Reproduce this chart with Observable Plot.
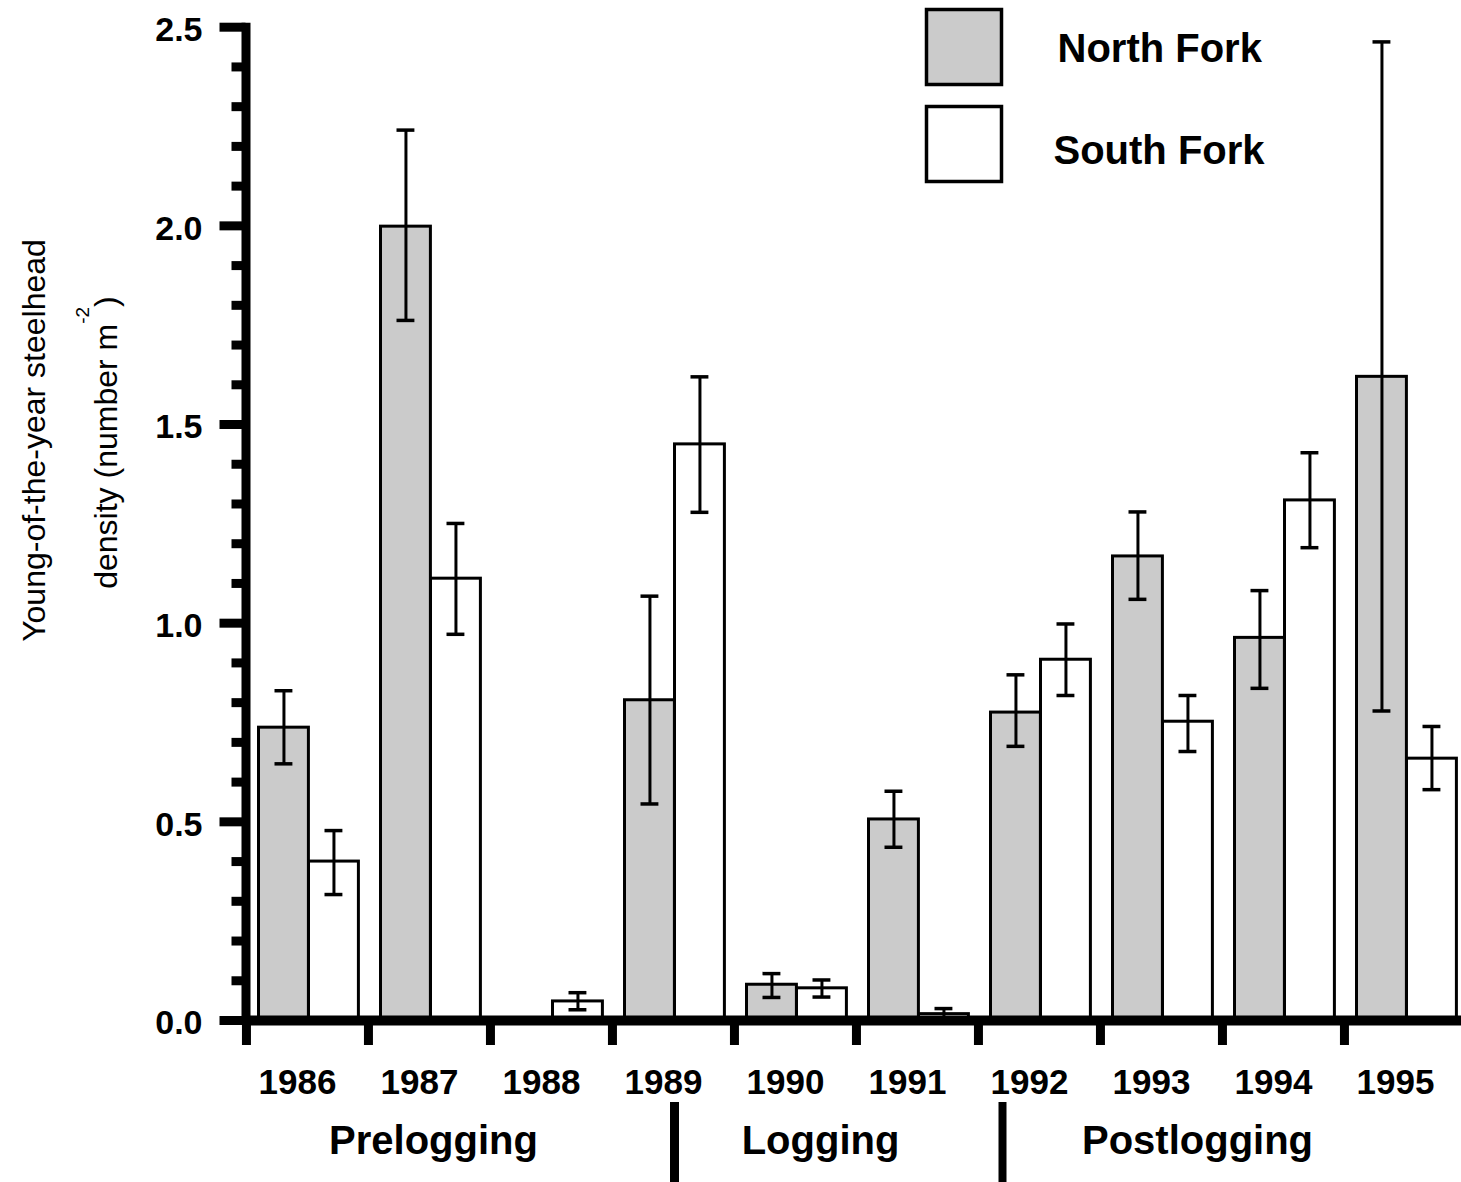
<!DOCTYPE html>
<html>
<head>
<meta charset="utf-8">
<script src="https://cdn.jsdelivr.net/npm/d3@7"></script>
<script src="https://cdn.jsdelivr.net/npm/@observablehq/plot@0.6"></script>
<style>
  html, body { margin: 0; padding: 0; background: #fff; }
</style>
</head>
<body>
<div id="chart"></div>
<script>
// ---- Data ----
const years = ["1986", "1987", "1988", "1989", "1990", "1991", "1992", "1993", "1994", "1995"];
const seriesNames = ["North Fork", "South Fork"];

const northFork = [0.737, 1.998, 0, 0.806, 0.090, 0.506, 0.775, 1.168, 0.963, 1.620];
const northLow  = [0.646, 1.762, null, 0.545, 0.058, 0.436, 0.690, 1.060, 0.836, 0.779];
const northHigh = [0.830, 2.241, null, 1.068, 0.118, 0.577, 0.870, 1.280, 1.082, 2.463];

const southFork = [0.400, 1.112, 0.048, 1.450, 0.081, 0.016, 0.908, 0.752, 1.309, 0.659];
const southLow  = [0.317, 0.972, 0.027, 1.279, 0.059, 0.004, 0.818, 0.677, 1.190, 0.581];
const southHigh = [0.478, 1.251, 0.070, 1.620, 0.102, 0.030, 0.998, 0.818, 1.429, 0.740];

const majorTicks = [0, 0.5, 1.0, 1.5, 2.0, 2.5];
const minorTicks = [0.1, 0.2, 0.3, 0.4, 0.6, 0.7, 0.8, 0.9, 1.1, 1.2, 1.3, 1.4, 1.6, 1.7, 1.8, 1.9, 2.1, 2.2, 2.3, 2.4];

const periods = ["Prelogging", "Logging", "Postlogging"];
const periodAnchorYears = ["1987", "1990", "1993"];
const separatorYears = ["1989", "1992"];

const yTitle1 = "Young-of-the-year steelhead";
const yTitle2 = "density (number m";
const yTitleSup = "-2";
const yTitleEnd = ")";

// ---- Tables built from the arrays ----
const nf = years.map((year, i) => ({year, value: northFork[i], lo: northLow[i], hi: northHigh[i]}));
const sf = years.map((year, i) => ({year, value: southFork[i], lo: southLow[i], hi: southHigh[i]}));
const nfBars = nf.filter(d => d.value > 0);
const sfBars = sf.filter(d => d.value > 0);
const nfErr = nf.filter(d => d.lo != null);
const sfErr = sf.filter(d => d.lo != null);
const periodRows = periods.map((label, i) => ({label, year: periodAnchorYears[i]}));

// ---- Layout / style constants ----
const FONT = "'Liberation Sans', Arial, Helvetica, sans-serif";
const bandStart = 245.5, step = 122.1;
const frameTop = 26.7;
const GRAY = "#cbcbcb";
const periodDx = [4, 25, 36];

const periodMarks = periodRows.map((row, i) =>
  Plot.text([row], {x: "year", text: "label", frameAnchor: "bottom", lineAnchor: "middle", textAnchor: "middle",
    dy: 121, dx: periodDx[i], fontSize: 40, fontWeight: "bold", fill: "#000"}));

const chart = Plot.plot({
  width: 1461,
  height: 1182,
  marginLeft: bandStart,
  marginRight: 0,
  marginTop: frameTop,
  marginBottom: 162,
  x: {type: "band", domain: years, range: [bandStart, bandStart + step * years.length], padding: 0, axis: null},
  y: {domain: [0, 2.5], axis: null},
  style: {fontFamily: FONT, background: "#fff", color: "#000", overflow: "hidden"},
  marks: [
    // Bars
    Plot.barY(nfBars, {x: "year", y: "value", fill: GRAY, stroke: "#000", strokeWidth: 3, insetLeft: 12.5, insetRight: step - 62.5}),
    Plot.barY(sfBars, {x: "year", y: "value", fill: "#fff", stroke: "#000", strokeWidth: 3, insetLeft: 62.5, insetRight: step - 112.5}),

    // Error bars North Fork
    Plot.ruleX(nfErr, {x: "year", y1: "lo", y2: "hi", dx: 37.5 - step / 2, strokeWidth: 3, stroke: "#000"}),
    Plot.tickY(nfErr, {x: "year", y: "hi", insetLeft: 28.5, insetRight: step - 46.5, strokeWidth: 3.5, stroke: "#000"}),
    Plot.tickY(nfErr, {x: "year", y: "lo", insetLeft: 28.5, insetRight: step - 46.5, strokeWidth: 3.5, stroke: "#000"}),
    // Error bars South Fork
    Plot.ruleX(sfErr, {x: "year", y1: "lo", y2: "hi", dx: 87.5 - step / 2, strokeWidth: 3, stroke: "#000"}),
    Plot.tickY(sfErr, {x: "year", y: "hi", insetLeft: 78.5, insetRight: step - 96.5, strokeWidth: 3.5, stroke: "#000"}),
    Plot.tickY(sfErr, {x: "year", y: "lo", insetLeft: 78.5, insetRight: step - 96.5, strokeWidth: 3.5, stroke: "#000"}),

    // Y axis line and ticks
    Plot.frame({anchor: "left", strokeWidth: 9, stroke: "#000"}),
    Plot.axisY({ticks: majorTicks, tickSize: 26, strokeWidth: 9, fill: "none", label: null}),
    Plot.axisY({ticks: minorTicks, tickSize: 14, strokeWidth: 9, fill: "none", label: null}),
    Plot.text(majorTicks, {y: d => d, text: d => d.toFixed(1), frameAnchor: "left", textAnchor: "end", lineAnchor: "middle",
      dx: -43.5, dy: 3, fontSize: 34, fontWeight: "bold", fill: "#000"}),

    // X axis line and group ticks
    Plot.ruleY([0], {strokeWidth: 10, stroke: "#000"}),
    Plot.axisX({tickSize: 25, strokeWidth: 9, fill: "none", dx: -step / 2, label: null}),
    Plot.text(years, {x: d => d, text: d => d, frameAnchor: "bottom", lineAnchor: "middle", textAnchor: "middle",
      dy: 62, dx: -10, fontSize: 35, fontWeight: "bold", fill: "#000"}),

    // Period labels and separators
    ...periodMarks,
    Plot.ruleX(separatorYears, {x: d => d, dx: 1, insetTop: 993.3 - 80, dy: 162, strokeWidth: 9, stroke: "#000", filter: d => d === "1989"}),
    Plot.ruleX(separatorYears, {x: d => d, dx: -37, insetTop: 993.3 - 80, dy: 162, strokeWidth: 8, stroke: "#000", filter: d => d === "1992"}),

    // Y axis title (two lines)
    Plot.text([yTitle1], {frameAnchor: "top-left", textAnchor: "middle", lineAnchor: "middle",
      dx: 34 - bandStart, dy: 440 - frameTop, rotate: -90, fontSize: 32, fill: "#000"}),
    Plot.text([yTitle2], {frameAnchor: "top-left", textAnchor: "middle", lineAnchor: "middle",
      dx: 106 - bandStart, dy: 442 - frameTop, rotate: -90, fontSize: 32, fill: "#000"}),

    // Legend
    Plot.dot([seriesNames[0]], {frameAnchor: "top-left", dx: 963.5 - bandStart, dy: 46.5 - frameTop, symbol: "square",
      r: 75 / Math.sqrt(Math.PI), fill: GRAY, stroke: "#000", strokeWidth: 3.5}),
    Plot.dot([seriesNames[1]], {frameAnchor: "top-left", dx: 963.5 - bandStart, dy: 143.5 - frameTop, symbol: "square",
      r: 75 / Math.sqrt(Math.PI), fill: "#fff", stroke: "#000", strokeWidth: 3.5}),
    Plot.text([seriesNames[0]], {frameAnchor: "top-left", dx: 1057 - bandStart, dy: 49 - frameTop, textAnchor: "start", lineAnchor: "middle",
      fontSize: 40, fontWeight: "bold", fill: "#000"}),
    Plot.text([seriesNames[1]], {frameAnchor: "top-left", dx: 1053 - bandStart, dy: 151 - frameTop, textAnchor: "start", lineAnchor: "middle",
      fontSize: 40, fontWeight: "bold", fill: "#000"})
  ]
});

document.getElementById("chart").appendChild(chart);

// Superscript in the y title
d3.select(chart).selectAll("text").filter(function() { return this.textContent === yTitle2; }).each(function() {
  const el = d3.select(this);
  el.text(null);
  el.append("tspan").text(yTitle2);
  el.append("tspan").attr("dy", -28).attr("font-size", 19).text(yTitleSup);
  el.append("tspan").attr("dy", 28).text(yTitleEnd);
});
</script>
</body>
</html>
